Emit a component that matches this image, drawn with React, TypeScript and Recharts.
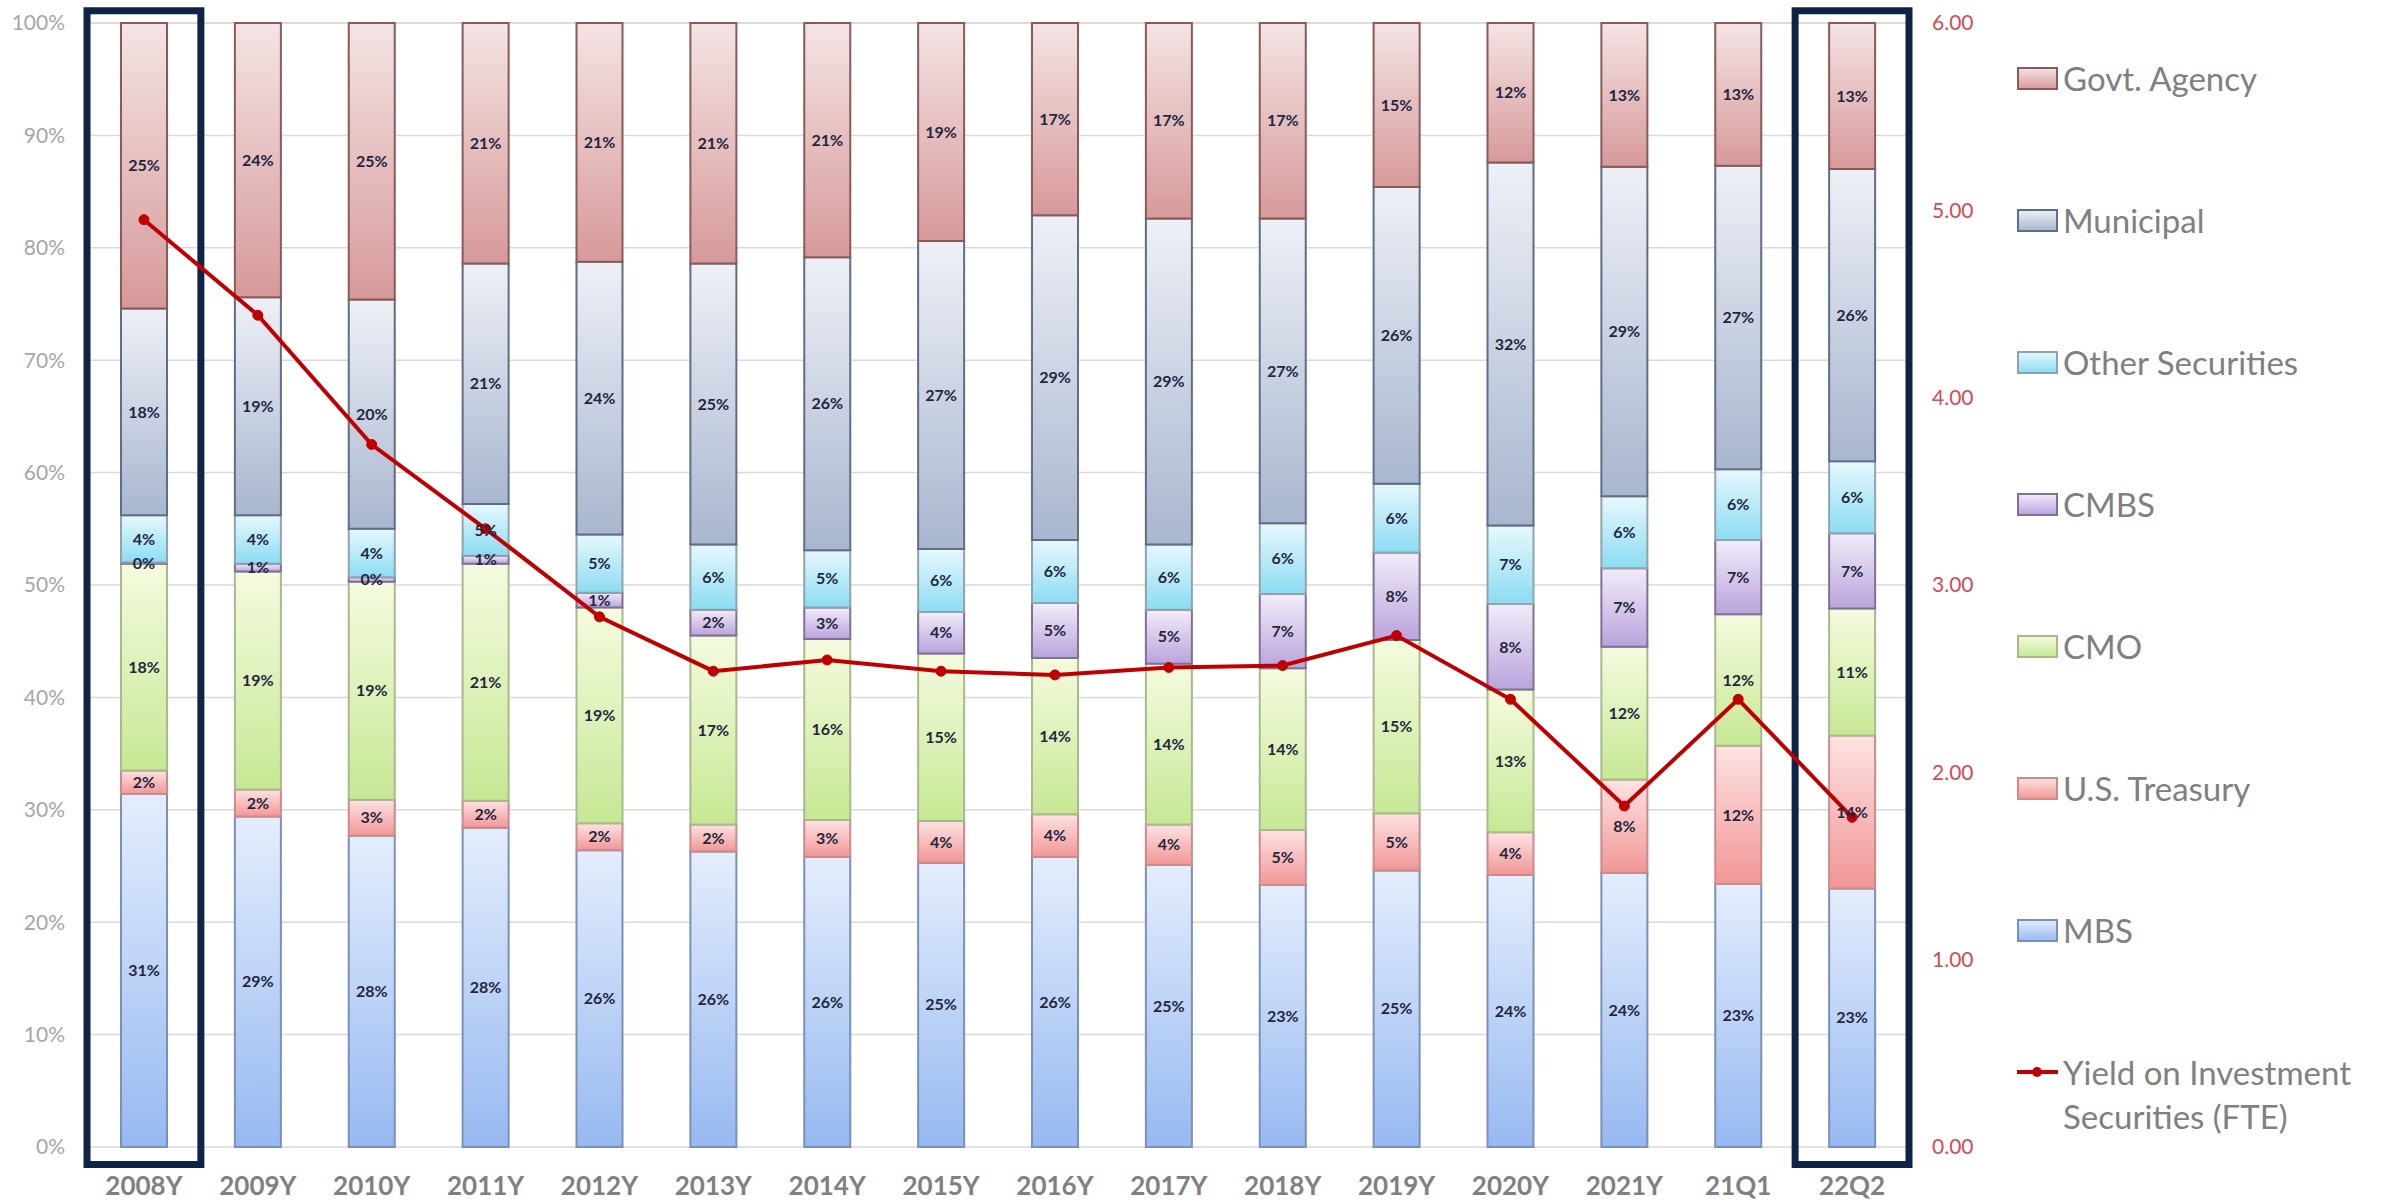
import React from 'react';
import {
  ComposedChart,
  Bar,
  Line,
  XAxis,
  YAxis,
  CartesianGrid,
  Legend,
  LabelList,
  ReferenceArea,
} from 'recharts';

const categories = [
  '2008Y', '2009Y', '2010Y', '2011Y', '2012Y', '2013Y', '2014Y', '2015Y',
  '2016Y', '2017Y', '2018Y', '2019Y', '2020Y', '2021Y', '21Q1', '22Q2',
];

// share of portfolio, %
const mbs = [31.4, 29.4, 27.7, 28.4, 26.4, 26.3, 25.8, 25.3, 25.8, 25.1, 23.3, 24.6, 24.2, 24.4, 23.4, 23.0];
const treasury = [2.1, 2.4, 3.2, 2.4, 2.4, 2.4, 3.3, 3.7, 3.8, 3.6, 4.9, 5.1, 3.8, 8.3, 12.3, 13.6];
const cmo = [18.4, 19.4, 19.4, 21.1, 19.2, 16.8, 16.1, 14.9, 13.9, 14.3, 14.4, 15.4, 12.7, 11.8, 11.7, 11.3];
const cmbs = [0.1, 0.7, 0.4, 0.7, 1.3, 2.3, 2.8, 3.7, 4.9, 4.8, 6.6, 7.8, 7.6, 7.0, 6.6, 6.7];
const otherSec = [4.2, 4.3, 4.3, 4.6, 5.2, 5.8, 5.1, 5.6, 5.6, 5.8, 6.3, 6.1, 7.0, 6.4, 6.3, 6.4];
const municipal = [18.4, 19.4, 20.4, 21.4, 24.25, 25.0, 26.05, 27.4, 28.9, 29.0, 27.1, 26.4, 32.3, 29.3, 27.0, 26.0];
const govtAgency = [25.4, 24.4, 24.6, 21.4, 21.25, 21.4, 20.85, 19.4, 17.1, 17.4, 17.4, 14.6, 12.4, 12.8, 12.7, 13.0];

// yield on investment securities (FTE), right axis
const yieldFte = [4.95, 4.44, 3.75, 3.3, 2.83, 2.54, 2.6, 2.54, 2.52, 2.56, 2.57, 2.73, 2.39, 1.82, 2.39, 1.76];

const leftTicks = [0, 10, 20, 30, 40, 50, 60, 70, 80, 90, 100];
const rightTicks = [0, 1, 2, 3, 4, 5, 6];
const highlighted = ['2008Y', '22Q2'];

const series = [
  { key: 'mbs', name: 'MBS', values: mbs, top: '#e4edfc', bottom: '#97b9f1', stroke: '#7a90ba' },
  { key: 'treasury', name: 'U.S. Treasury', values: treasury, top: '#fde3e3', bottom: '#f29696', stroke: '#c98b8b' },
  { key: 'cmo', name: 'CMO', values: cmo, top: '#f5fbdf', bottom: '#c6e894', stroke: '#a9b98e' },
  { key: 'cmbs', name: 'CMBS', values: cmbs, top: '#f2ecf9', bottom: '#b9a4dc', stroke: '#7f7196' },
  { key: 'other', name: 'Other Securities', values: otherSec, top: '#e8f8fd', bottom: '#8bdcf3', stroke: '#8fa3ad' },
  { key: 'municipal', name: 'Municipal', values: municipal, top: '#eef0f6', bottom: '#a8b6cf', stroke: '#5f6d86' },
  { key: 'govt', name: 'Govt. Agency', values: govtAgency, top: '#f4e4e4', bottom: '#d7999a', stroke: '#8a5a5a' },
];

const data = categories.map((category, i) => {
  const row: Record<string, string | number> = { category, yield: yieldFte[i] };
  series.forEach((s) => {
    row[s.key] = s.values[i];
  });
  return row;
});

const LINE_RED = '#c00000';
const FONT = 'Lato, "Open Sans", sans-serif';

function LegendBox() {
  return (
    <div style={{ fontFamily: FONT, fontSize: 33, color: '#808080', lineHeight: '44px' }}>
      {[...series].reverse().map((s) => (
        <div
          key={s.key}
          style={{ height: 142, display: 'flex', alignItems: 'center', boxSizing: 'border-box' }}
        >
          <svg width={41} height={23} style={{ marginRight: 5, flex: 'none' }}>
            <rect x={1} y={1} width={39} height={21} fill={`url(#grad-${s.key})`} stroke={s.stroke} strokeWidth={2} />
          </svg>
          <span>{s.name}</span>
        </div>
      ))}
      <div
        style={{ height: 142, display: 'flex', alignItems: 'flex-start', paddingTop: 49, boxSizing: 'border-box' }}
      >
        <svg width={41} height={44} style={{ marginRight: 5, flex: 'none' }}>
          <line x1={0} y1={22} x2={41} y2={22} stroke={LINE_RED} strokeWidth={4} />
          <circle cx={20} cy={22} r={5} fill={LINE_RED} />
        </svg>
        <span>
          Yield on Investment
          <br />
          Securities (FTE)
        </span>
      </div>
    </div>
  );
}

export default function App() {
  return (
    <div style={{ position: 'absolute', left: 0, top: 0, width: 2390, height: 1203, background: '#ffffff' }}>
      <ComposedChart
        width={2390}
        height={1203}
        data={data}
        margin={{ top: 23, right: 381, bottom: 0, left: 0 }}
        barSize={46}
      >
        <defs>
          {series.map((s) => (
            <linearGradient key={s.key} id={`grad-${s.key}`} x1="0" y1="0" x2="0" y2="1">
              <stop offset="0%" stopColor={s.top} />
              <stop offset="100%" stopColor={s.bottom} />
            </linearGradient>
          ))}
        </defs>
        <CartesianGrid yAxisId="left" vertical={false} stroke="#d9d9d9" strokeWidth={1.5} />
        <XAxis
          dataKey="category"
          axisLine={false}
          tickLine={false}
          height={56}
          tickSize={0}
          tickMargin={30}
          interval={0}
          tick={{ fill: '#808080', fontSize: 26, fontWeight: 700, fontFamily: FONT }}
        />
        <YAxis
          yAxisId="left"
          domain={[0, 100]}
          ticks={leftTicks}
          width={87}
          axisLine={false}
          tickLine={false}
          tickSize={0}
          tickMargin={22}
          tickFormatter={(v: number) => `${v}%`}
          tick={{ fill: '#a6a6a6', fontSize: 21, fontFamily: FONT }}
        />
        <YAxis
          yAxisId="right"
          orientation="right"
          domain={[0, 6]}
          ticks={rightTicks}
          width={100}
          axisLine={false}
          tickLine={false}
          tickSize={0}
          tickMargin={23}
          tickFormatter={(v: number) => v.toFixed(2)}
          tick={{ fill: '#d64a55', fontSize: 21, fontFamily: FONT }}
        />
        {series.map((s) => (
          <Bar
            key={s.key}
            yAxisId="left"
            dataKey={s.key}
            name={s.name}
            stackId="mix"
            fill={`url(#grad-${s.key})`}
            stroke={s.stroke}
            strokeWidth={2}
            isAnimationActive={false}
          >
            <LabelList
              dataKey={s.key}
              position="center"
              formatter={(v: number) => `${Math.round(v)}%`}
              fill="#1f2740"
              fontSize={16}
              fontWeight={700}
              fontFamily={FONT}
            />
          </Bar>
        ))}
        <Line
          yAxisId="right"
          dataKey="yield"
          name="Yield on Investment Securities (FTE)"
          type="linear"
          stroke={LINE_RED}
          strokeWidth={4}
          dot={{ r: 5, fill: LINE_RED, stroke: LINE_RED, strokeWidth: 1 }}
          isAnimationActive={false}
        />
        {highlighted.map((c) => (
          <ReferenceArea
            key={c}
            yAxisId="left"
            x1={c}
            x2={c}
            y1={-1.56}
            y2={101.1}
            ifOverflow="visible"
            fill="none"
            fillOpacity={0}
            stroke="#0f2347"
            strokeWidth={7}
          />
        ))}
        <Legend
          layout="vertical"
          align="center"
          verticalAlign="middle"
          wrapperStyle={{ left: 2017, top: 7, width: 373 }}
          content={() => <LegendBox />}
        />
      </ComposedChart>
    </div>
  );
}
